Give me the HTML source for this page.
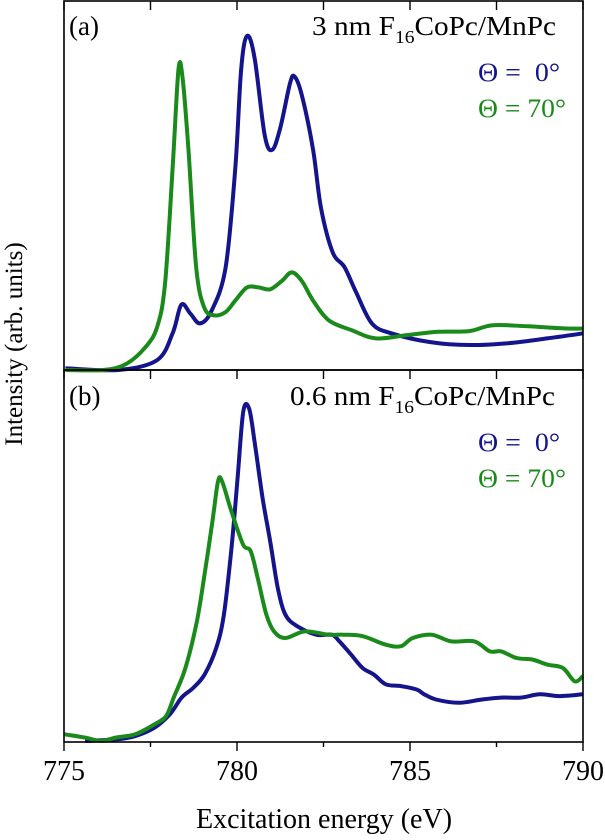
<!DOCTYPE html>
<html><head><meta charset="utf-8"><style>
body{margin:0;background:#fff;width:605px;height:835px;overflow:hidden}
svg text{font-family:"Liberation Serif",serif}
</style></head><body>
<svg id="chart" width="605" height="835">
<g id="g"></g>
<text x="69" y="35" font-size="27">(a)</text>
<text x="312" y="35" font-size="27" textLength="244" lengthAdjust="spacingAndGlyphs">3 nm F<tspan font-size="18" dy="8">16</tspan><tspan dy="-8">CoPc/MnPc</tspan></text>
<text x="478" y="81" font-size="26" fill="#14148c" textLength="82" lengthAdjust="spacingAndGlyphs">Θ =&#160;&#160;0°</text>
<text x="478" y="117" font-size="26" fill="#1a8a1a" textLength="88" lengthAdjust="spacingAndGlyphs">Θ = 70°</text>
<text x="69" y="405" font-size="27">(b)</text>
<text x="290" y="405" font-size="27" textLength="265" lengthAdjust="spacingAndGlyphs">0.6 nm F<tspan font-size="18" dy="8">16</tspan><tspan dy="-8">CoPc/MnPc</tspan></text>
<text x="478" y="451" font-size="26" fill="#14148c" textLength="82" lengthAdjust="spacingAndGlyphs">Θ =&#160;&#160;0°</text>
<text x="478" y="487" font-size="26" fill="#1a8a1a" textLength="88" lengthAdjust="spacingAndGlyphs">Θ = 70°</text>
<text x="324" y="828" font-size="28" text-anchor="middle">Excitation energy (eV)</text>
<text transform="translate(22,344) rotate(-90)" font-size="25" text-anchor="middle">Intensity (arb. units)</text>
</svg>
<script>
const xTicks=[775,780,785,790];
const minorTicks=[777.5,782.5,787.5];
const aBlueE=[775.04,776.57,777.69,778.14,778.39,778.65,778.93,779.27,779.67,779.95,780.12,780.29,780.51,780.80,781.02,781.25,781.53,781.66,781.87,782.20,782.43,782.77,783.11,783.45,783.90,784.46,785.59,786.71,787.84,788.96,790];
const aBlueI=[0.005,0,0.027,0.10,0.178,0.154,0.127,0.162,0.279,0.55,0.82,0.91,0.85,0.64,0.60,0.66,0.78,0.80,0.75,0.60,0.44,0.32,0.28,0.21,0.127,0.10,0.076,0.068,0.073,0.086,0.10];
const aGreenE=[775.04,776.12,776.79,777.36,777.69,777.92,778.14,778.31,778.43,778.60,778.82,779.05,779.33,779.67,779.95,780.29,780.62,780.96,781.30,781.58,781.87,782.20,782.66,783.33,784.01,784.91,785.81,786.71,787.39,788.41,789.54,790];
const aGreenI=[0,0,0.016,0.063,0.117,0.234,0.55,0.82,0.793,0.595,0.279,0.171,0.149,0.158,0.189,0.225,0.225,0.22,0.243,0.266,0.243,0.189,0.135,0.108,0.086,0.095,0.104,0.106,0.122,0.119,0.113,0.113];
const bBlueE=[775.61,776.50,777.06,777.62,778.06,778.40,778.73,779.06,779.40,779.62,779.84,780.01,780.18,780.35,780.51,780.74,780.96,781.18,781.40,781.74,782.29,782.74,782.96,783.30,783.63,783.96,784.30,784.74,785.19,785.41,785.75,786.41,787.08,787.64,788.20,788.75,789.31,790];
const bBlueI=[0.003,0.007,0.016,0.039,0.075,0.12,0.146,0.182,0.254,0.344,0.524,0.704,0.892,0.901,0.811,0.659,0.542,0.416,0.344,0.313,0.29,0.29,0.272,0.236,0.2,0.182,0.156,0.151,0.142,0.129,0.115,0.106,0.115,0.12,0.12,0.129,0.124,0.129];
const bGreenE=[775,775.61,776.06,776.5,777.06,777.62,777.95,778.17,778.51,778.84,779.06,779.29,779.45,779.57,779.84,780.18,780.40,780.62,780.85,781.07,781.40,781.96,782.63,783.07,783.63,784.30,784.74,785.08,785.63,786.19,786.86,787.31,787.64,788.08,788.53,788.98,789.42,789.76,790];
const bGreenI=[0.021,0.012,0.003,0.012,0.021,0.048,0.07,0.12,0.2,0.326,0.452,0.596,0.704,0.704,0.623,0.533,0.515,0.434,0.344,0.299,0.281,0.299,0.29,0.29,0.286,0.263,0.259,0.281,0.29,0.272,0.272,0.245,0.245,0.227,0.223,0.209,0.2,0.164,0.178];

const X0=64,X1=583;
const xs=e=>X0+(e-775)/15*(X1-X0);
const panels={a:{top:1,bot:370},b:{top:370,bot:742}};
const ys=(p,v)=>panels[p].bot-v*(panels[p].bot-panels[p].top-2);
const NS="http://www.w3.org/2000/svg";
const g=document.getElementById('g');
function mk(t,attrs){const el=document.createElementNS(NS,t);for(const k in attrs)el.setAttribute(k,attrs[k]);g.appendChild(el);return el;}
function line(p,E,I,color,name){
  const pts=E.map((e,i)=>[xs(e),ys(p,I[i])]);
  let d='M'+pts[0][0].toFixed(1)+','+pts[0][1].toFixed(1);
  for(let i=0;i<pts.length-1;i++){
    const p0=pts[i-1]||pts[i],p1=pts[i],p2=pts[i+1],p3=pts[i+2]||p2;
    const c1=[p1[0]+(p2[0]-p0[0])/6,p1[1]+(p2[1]-p0[1])/6];
    const c2=[p2[0]-(p3[0]-p1[0])/6,p2[1]-(p3[1]-p1[1])/6];
    d+='C'+c1.map(v=>v.toFixed(1)).join(',')+' '+c2.map(v=>v.toFixed(1)).join(',')+' '+p2.map(v=>v.toFixed(1)).join(',');
  }
  const el=mk('path',{d:d,fill:'none',stroke:color,'stroke-width':4,'stroke-linejoin':'round'});
  
  
}
line('a',aBlueE,aBlueI,'#14148c','series-a-0deg');
line('a',aGreenE,aGreenI,'#1a8a1a','series-a-70deg');
line('b',bBlueE,bBlueI,'#14148c','series-b-0deg');
line('b',bGreenE,bGreenI,'#1a8a1a','series-b-70deg');
for(const p of ['a','b']){
  const fr=mk('rect',{x:X0,y:panels[p].top,width:X1-X0,height:panels[p].bot-panels[p].top,fill:'none',stroke:'#000','stroke-width':1.6});
  
  
}
function tick(x,y1,y2){
  const tk=mk('line',{x1:x,x2:x,y1:y1,y2:y2,stroke:'#000','stroke-width':1.4});
  
  
}
xTicks.forEach(t=>{const x=xs(t);tick(x,1,10);tick(x,370,379);tick(x,742,751);});
minorTicks.forEach(t=>{const x=xs(t);tick(x,1,10);tick(x,370,379);tick(x,742,747);});
xTicks.forEach(t=>{
  const tx=mk('text',{x:xs(t),y:780,'font-size':28,'text-anchor':'middle'});
  tx.textContent=t;
  
  
});
</script>
</body></html>
